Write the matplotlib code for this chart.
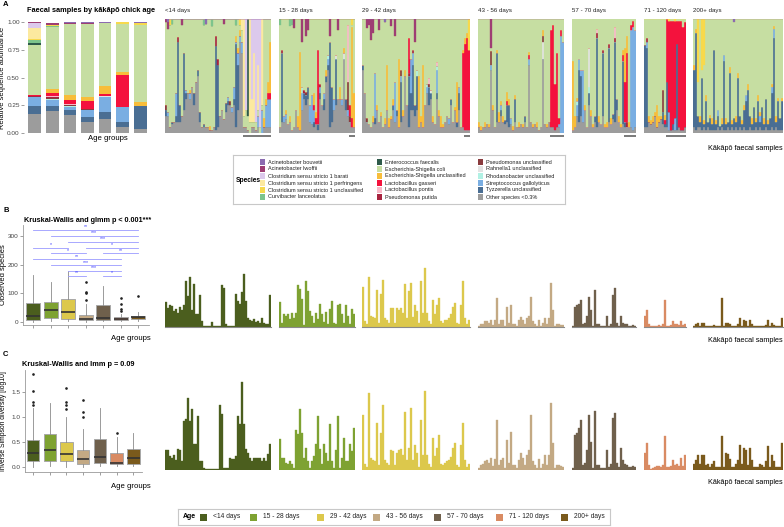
import matplotlib
matplotlib.use("Agg")
import matplotlib.pyplot as plt
from matplotlib.patches import Rectangle
import numpy as np

plt.rcParams["font.family"] = ["Liberation Sans", "DejaVu Sans"]

age_groups = ["<14 days", "15 - 28 days", "29 - 42 days", "43 - 56 days",
              "57 - 70 days", "71 - 120 days", "200+ days"]
age_colors = ["#4b5e1e", "#7ea232", "#dcc84c", "#c3a984", "#6f604c", "#d98b63", "#7a5a1c"]

# legend order (top of stack first)
species_keys = ["bouvetii", "lwoffii", "barati", "cperf", "cuncl", "curvi", "entero", "coli",
                "esu", "gass", "pontis", "pp", "pu", "rahn", "rhod", "strep", "tyzz", "other"]
species_names = ["Acinetobacter bouvetii", "Acinetobacter lwoffii",
                 "Clostridium sensu stricto 1 barati", "Clostridium sensu stricto 1 perfringens",
                 "Clostridium sensu stricto 1 unclassified", "Curvibacter lanceolatus",
                 "Enterococcus faecalis", "Escherichia-Shigella coli",
                 "Escherichia-Shigella unclassified", "Lactobacillus gasseri",
                 "Lactobacillus pontis", "Pseudomonas putida", "Pseudomonas unclassified",
                 "Rahnella1 unclassified", "Rhodanobacter unclassified",
                 "Streptococcus gallolyticus", "Tyzzerella unclassified", "Other species <0.3%"]
species_colors = ["#8b6bb0", "#9e3e73", "#dcc9ec", "#fce99f", "#f7d94c", "#7dc48c", "#2e5a4a",
                  "#c6dea2", "#f8bd3a", "#f4123d", "#f9b9c9", "#a8233f", "#8a3b3e", "#e3e3e3",
                  "#b1f1e4", "#7aaee2", "#4a6e93", "#9c9c9c"]

# mean relative abundance per age group (rows follow species_keys)
mean_abund = [
    [0.005, 0.005, 0.005, 0.005, 0.003, 0.0, 0.005],
    [0.01, 0.015, 0.01, 0.01, 0.005, 0.0, 0.0],
    [0.045, 0.0, 0.0, 0.0, 0.0, 0.0, 0.0],
    [0.10, 0.0, 0.0, 0.0, 0.0, 0.0, 0.0],
    [0.01, 0.015, 0.005, 0.0, 0.0, 0.02, 0.02],
    [0.02, 0.005, 0.0, 0.0, 0.0, 0.0, 0.0],
    [0.02, 0.0, 0.0, 0.0, 0.0, 0.0, 0.0],
    [0.45, 0.56, 0.635, 0.665, 0.57, 0.43, 0.70],
    [0.005, 0.035, 0.05, 0.035, 0.07, 0.03, 0.03],
    [0.005, 0.025, 0.035, 0.07, 0.015, 0.29, 0.0],
    [0.005, 0.01, 0.005, 0.0, 0.0, 0.0, 0.0],
    [0.005, 0.01, 0.005, 0.0, 0.005, 0.0, 0.0],
    [0.005, 0.005, 0.005, 0.005, 0.0, 0.0, 0.0],
    [0.0, 0.005, 0.0, 0.0, 0.005, 0.0, 0.0],
    [0.0, 0.01, 0.01, 0.0, 0.005, 0.0, 0.0],
    [0.08, 0.055, 0.025, 0.065, 0.13, 0.13, 0.005],
    [0.07, 0.045, 0.05, 0.05, 0.065, 0.045, 0.20],
    [0.17, 0.195, 0.16, 0.095, 0.125, 0.055, 0.04],
]

# per-sample abundance (%) of the main taxa, one list per age group
other_pct = [
    [15, 15, 5, 8, 10, 10, 10, 10, 15, 20, 30, 35, 30, 40, 25, 45, 50, 10, 5, 5,
     5, 5, 3, 3, 5, 3, 5, 15, 20, 12, 18, 25, 25, 18, 25, 5, 20, 80, 70, 5,
     5, 3, 0, 5, 5, 3, 5, 0, 0, 5, 5, 5, 5],
    [5, 10, 10, 12, 8, 10, 3, 5, 20, 5, 3, 20, 30, 25, 30, 10, 8, 5, 8, 3,
     30, 25, 20, 45, 55, 5, 10, 20, 25, 30, 30, 25, 65, 20, 15, 10, 5, 5],
    [55, 35, 10, 8, 5, 10, 8, 20, 10, 15, 5, 8, 20, 5, 12, 20, 10, 15, 5, 10,
     15, 50, 25, 5, 20, 20, 15, 20, 5, 10, 5, 25, 35, 25, 30, 10, 8, 30, 15, 5,
     5, 10, 15, 8, 25, 10, 20, 5, 20, 5, 5, 3, 3, 3],
    [5, 3, 5, 5, 8, 5, 55, 20, 5, 10, 10, 15, 10, 8, 10, 5, 8, 3, 10, 5,
     5, 8, 5, 10, 5, 60, 10, 5, 8, 5, 3, 5, 65, 8, 5, 10, 5, 5, 3, 5, 5, 0, 0],
    [3, 5, 15, 10, 15, 10, 20, 5, 25, 15, 5, 10, 5, 10, 8, 15, 5, 5, 10, 8,
     12, 10, 20, 10, 5, 8, 5, 5, 5, 5, 3, 5],
    [5, 5, 10, 8, 10, 15, 5, 10, 12, 8, 5, 5, 3, 3, 3, 3, 3, 5, 3, 3, 5],
    [5, 3, 5, 5, 3, 5, 3, 5, 3, 3, 3, 3, 5, 3, 5, 3, 3, 5, 3, 5,
     3, 5, 3, 5, 3, 5, 3, 3, 5, 3, 3, 5, 3, 5, 3, 3, 5, 3, 3, 5, 3, 5, 3, 3, 3],
]
tyzz_pct = [
    [5, 0, 0, 2, 0, 5, 70, 15, 0, 50, 5, 0, 0, 0, 10, 0, 5, 8, 0, 3,
     0, 0, 0, 0, 0, 73, 55, 0, 0, 0, 8, 3, 0, 0, 5, 73, 40, 0, 0, 0,
     0, 0, 0, 0, 0, 0, 0, 0, 0, 0, 0, 0, 0],
    [0, 60, 0, 0, 0, 0, 0, 0, 0, 0, 0, 0, 5, 8, 10, 0, 0, 5, 0, 5,
     5, 0, 10, 5, 5, 75, 30, 0, 40, 0, 0, 0, 0, 10, 0, 0, 0, 0],
    [5, 0, 0, 0, 0, 0, 5, 0, 0, 0, 0, 0, 0, 0, 0, 5, 0, 5, 0, 35,
     0, 0, 0, 45, 15, 40, 10, 30, 0, 0, 0, 0, 0, 15, 5, 0, 0, 5, 0, 0,
     0, 0, 0, 0, 5, 0, 0, 5, 15, 0, 0, 0, 0, 0],
    [0, 0, 0, 0, 0, 0, 0, 0, 0, 60, 0, 5, 0, 3, 15, 20, 0, 0, 20, 0,
     0, 0, 0, 5, 0, 0, 0, 0, 0, 0, 0, 0, 0, 0, 0, 0, 0, 0, 0, 0, 0, 0, 0],
    [0, 0, 0, 45, 35, 0, 0, 0, 10, 0, 0, 5, 78, 0, 0, 55, 0, 0, 65, 0,
     5, 70, 10, 0, 0, 55, 5, 0, 0, 0, 0, 0],
    [72, 70, 0, 0, 0, 0, 0, 0, 0, 10, 3, 40, 0, 0, 5, 0, 75, 0, 0, 0, 0],
    [50, 85, 10, 5, 45, 3, 25, 5, 10, 5, 70, 5, 10, 3, 3, 60, 5, 5, 50, 3,
     10, 5, 45, 10, 5, 15, 25, 35, 10, 5, 20, 5, 25, 5, 20, 5, 25, 5, 10, 30,
     80, 5, 25, 10, 25],
]
strep_pct = [
    [0, 3, 0, 0, 0, 20, 0, 0, 0, 0, 3, 0, 5, 0, 0, 0, 0, 0, 0, 0,
     0, 0, 0, 0, 0, 0, 0, 0, 0, 0, 0, 4, 0, 5, 10, 2, 10, 5, 10, 0,
     0, 0, 0, 0, 0, 0, 10, 0, 20, 0, 20, 25, 25],
    [0, 0, 5, 5, 0, 0, 0, 0, 0, 0, 0, 15, 0, 0, 0, 15, 25, 10, 0, 0,
     5, 0, 5, 0, 5, 0, 0, 10, 0, 0, 0, 5, 0, 0, 5, 0, 0, 0],
    [0, 0, 0, 0, 0, 0, 40, 0, 0, 0, 0, 0, 0, 0, 0, 0, 35, 0, 0, 5,
     0, 0, 0, 0, 30, 10, 0, 0, 0, 0, 0, 0, 5, 0, 0, 0, 0, 20, 0, 0,
     0, 0, 0, 5, 0, 0, 0, 0, 5, 0, 0, 0, 0, 0],
    [0, 0, 0, 0, 0, 0, 5, 0, 0, 0, 0, 5, 0, 0, 0, 0, 5, 0, 0, 0,
     0, 0, 0, 0, 0, 5, 0, 0, 0, 0, 0, 0, 0, 0, 0, 0, 0, 0, 0, 0, 3, 85, 80],
    [0, 0, 10, 10, 5, 45, 0, 0, 0, 0, 0, 0, 0, 0, 0, 0, 0, 0, 0, 0,
     0, 0, 0, 0, 0, 0, 0, 0, 0, 85, 90, 85],
    [0, 5, 0, 0, 0, 0, 0, 0, 0, 0, 0, 0, 15, 0, 0, 10, 0, 0, 0, 0, 0],
    [0, 0, 0, 0, 0, 0, 0, 0, 0, 0, 0, 0, 5, 0, 0, 5, 0, 0, 0, 0,
     0, 0, 0, 0, 0, 0, 5, 0, 0, 0, 0, 0, 0, 5, 0, 0, 0, 0, 0, 5, 8, 0, 0, 0, 0],
]
esu_pct = [
    [0, 0, 0, 0, 0, 0, 0, 0, 0, 0, 0, 0, 3, 0, 0, 0, 0, 0, 0, 0,
     0, 0, 3, 0, 0, 0, 0, 0, 0, 0, 0, 0, 0, 0, 0, 5, 5, 5, 0, 0,
     0, 0, 0, 0, 0, 0, 0, 0, 0, 8, 5, 10, 45],
    [0, 0, 0, 3, 0, 5, 0, 0, 0, 10, 68, 0, 0, 0, 0, 0, 0, 10, 5, 0,
     0, 0, 0, 5, 0, 0, 0, 0, 0, 0, 10, 0, 5, 0, 0, 0, 80, 30],
    [0, 0, 0, 0, 0, 5, 0, 5, 0, 3, 0, 5, 40, 8, 3, 5, 0, 0, 60, 0,
     5, 5, 0, 0, 0, 0, 0, 0, 45, 5, 55, 0, 0, 0, 0, 5, 0, 0, 5, 10,
     3, 0, 0, 0, 0, 0, 3, 35, 0, 0, 3, 5, 5, 0],
    [5, 3, 0, 5, 0, 3, 0, 5, 0, 3, 8, 3, 5, 0, 8, 5, 0, 3, 3, 0,
     5, 0, 3, 0, 0, 3, 0, 3, 0, 5, 0, 0, 5, 0, 3, 0, 0, 0, 0, 0, 0, 0, 0],
    [60, 10, 3, 0, 0, 0, 5, 0, 0, 5, 3, 0, 0, 5, 0, 0, 3, 5, 0, 5,
     0, 0, 0, 5, 3, 5, 30, 15, 5, 0, 0, 0],
    [0, 0, 5, 3, 5, 3, 20, 5, 3, 0, 5, 0, 0, 0, 0, 0, 0, 0, 0, 0, 0],
    [5, 3, 0, 5, 0, 3, 5, 0, 3, 5, 0, 3, 0, 0, 5, 0, 5, 0, 5, 3,
     0, 5, 5, 0, 3, 5, 0, 5, 0, 5, 0, 3, 5, 3, 0, 5, 0, 3, 0, 3, 3, 5, 3, 0, 3],
]
gass_pct = [
    [0] * 51 + [5, 5],
    [0, 0, 0, 0, 0, 0, 0, 0, 0, 0, 0, 0, 0, 0, 0, 0, 0, 5, 5, 65,
     0, 0, 0, 0, 0, 0, 0, 0, 0, 0, 0, 0, 0, 0, 0, 10, 8, 0],
    [0, 0, 0, 0, 0, 0, 0, 0, 0, 0, 0, 0, 0, 0, 0, 0, 0, 0, 0, 0,
     0, 0, 0, 30, 0, 0, 0, 0, 0, 0, 0, 0, 0, 0, 0, 0, 0, 0, 0, 0,
     0, 0, 0, 0, 0, 0, 0, 0, 0, 0, 65, 75, 80, 70],
    [0, 0, 0, 0, 0, 0, 0, 0, 0, 0, 0, 0, 0, 0, 3, 0, 0, 0, 0, 0,
     0, 0, 0, 0, 0, 3, 0, 0, 0, 0, 0, 0, 0, 0, 0, 0, 85, 90, 40, 65, 5, 5, 0],
    [0, 0, 0, 0, 0, 0, 0, 0, 0, 0, 0, 0, 0, 0, 0, 0, 0, 0, 0, 0,
     0, 0, 0, 0, 0, 5, 35, 60, 0, 5, 5, 0],
    [0, 0, 0, 0, 0, 0, 0, 0, 0, 0, 3, 55, 80, 95, 90, 85, 20, 93, 95, 90, 92],
    [0] * 45,
]
# rarer taxa: {(age group, sample): %}
rhod_pct = {(1, 11): 5, (1, 24): 3, (2, 27): 5, (2, 32): 3, (2, 37): 4, (4, 2): 3, (4, 8): 5}
rahn_pct = {(1, 28): 3, (1, 32): 5, (2, 34): 3, (3, 32): 15, (4, 8): 35}
pu_pct = {(0, 0): 5, (0, 32): 3, (1, 13): 3, (1, 34): 25, (1, 35): 5, (2, 2): 3, (2, 19): 5,
          (2, 33): 3, (3, 6): 12, (3, 32): 5, (5, 9): 20}
pp_pct = {(0, 6): 4, (0, 25): 9, (0, 26): 5, (1, 1): 3, (1, 12): 3, (1, 20): 3, (2, 23): 3,
          (2, 25): 3, (4, 12): 5, (4, 15): 3, (4, 18): 3, (4, 21): 3, (4, 27): 5, (5, 1): 3}
pontis_pct = {(1, 34): 50, (2, 33): 5, (2, 37): 3, (4, 12): 3, (4, 21): 10}
entero_pct = {(0, 41): 85}
curvi_pct = {(0, 3): 4, (0, 19): 5, (0, 23): 6, (0, 35): 5, (1, 0): 5, (1, 5): 6, (1, 6): 5}
cuncl_pct = {(0, 2): 5, (0, 37): 5, (1, 36): 5, (2, 53): 27, (5, 12): 5, (5, 15): 5,
             (6, 2): 55, (6, 4): 45, (6, 5): 40}
cperf_pct = {(0, 38): 10, (0, 39): 85, (0, 42): 90, (0, 43): 20, (0, 44): 60, (0, 46): 40,
             (0, 48): 75}
barati_pct = {(0, 40): 80, (0, 43): 70, (0, 44): 30, (0, 45): 90, (0, 46): 40, (0, 47): 95}
lwoffii_pct = {(0, 0): 3, (0, 1): 6, (0, 8): 5, (0, 29): 4, (1, 7): 8, (1, 11): 20, (1, 13): 15,
               (1, 14): 10, (1, 25): 15, (1, 29): 10, (2, 2): 8, (2, 3): 5, (2, 4): 18,
               (2, 5): 12, (2, 8): 10, (2, 14): 6, (2, 16): 15, (2, 26): 20, (3, 6): 25}
bouvetii_pct = {(0, 1): 3, (0, 20): 4, (2, 11): 3, (6, 20): 3}

# samples underlined below panel A (age group, first, last)
underlines = [(0, 39, 52), (1, 35, 37), (2, 51, 53), (3, 36, 42), (4, 26, 31), (5, 11, 20)]

# observed species per sample
obs_species = [
    [87, 67, 76, 74, 55, 64, 48, 70, 60, 75, 160, 108, 175, 58, 150, 45, 45, 110, 20, 5,
     3, 3, 2, 18, 5, 3, 3, 2, 148, 137, 10, 2, 3, 5, 4, 114, 90, 80, 123, 186,
     90, 30, 25, 20, 28, 18, 20, 15, 31, 15, 10, 12, 113],
    [87, 15, 44, 38, 44, 27, 50, 30, 50, 145, 131, 97, 8, 160, 126, 56, 38, 15, 50, 27,
     79, 47, 17, 53, 12, 64, 91, 15, 10, 78, 81, 44, 15, 78, 38, 12, 62, 44],
    [140, 20, 10, 175, 40, 35, 30, 130, 15, 115, 165, 30, 25, 15, 65, 65, 15, 65, 60, 65,
     50, 150, 30, 125, 155, 35, 75, 55, 15, 160, 50, 205, 50, 20, 10, 95, 45, 75, 100, 20,
     15, 25, 25, 30, 45, 70, 85, 15, 10, 75, 160, 30, 10, 25],
    [5, 10, 12, 20, 20, 15, 25, 8, 25, 100, 10, 25, 25, 5, 70, 15, 75, 10, 10, 5,
     25, 35, 25, 10, 30, 40, 105, 20, 10, 5, 25, 5, 15, 30, 10, 30, 155, 60, 5, 10, 10, 8, 8],
    [5, 70, 75, 80, 95, 10, 15, 40, 105, 60, 5, 130, 10, 10, 5, 5, 5, 40, 5, 10,
     110, 135, 15, 5, 40, 15, 10, 10, 5, 5, 8, 5],
    [40, 60, 10, 2, 3, 5, 5, 8, 5, 10, 95, 5, 5, 8, 20, 10, 10, 8, 20, 8, 12],
    [5, 10, 15, 5, 15, 15, 5, 5, 3, 5, 8, 3, 3, 3, 100, 3, 15, 15, 10, 3,
     3, 5, 10, 30, 5, 25, 20, 5, 25, 10, 3, 3, 3, 5, 5, 3, 8, 25, 3, 15, 8, 3, 3, 3, 30],
]
# inverse Simpson diversity [log10] per sample
inv_simpson = [
    [0.40, 0.40, 0.29, 0.25, 0.30, 0.20, 0.42, 0.40, 0.19, 0.99, 1.02, 1.44, 0.98, 1.23, 0.53,
     0.52, 1.09, 0.19, 0.19, 0.05, 0.03, 0.02, 0.02, 0.02, 0.02, 0.02, 0.02, 1.31, 1.12, 0.05,
     0.05, 0.05, 0.24, 0.22, 0.22, 0.29, 1.09, 0.92, 1.77, 0.92, 0.42, 0.35, 0.25, 0.19, 0.25,
     0.24, 0.24, 0.25, 0.19, 0.25, 0.19, 0.32, 0.53],
    [0.62, 0.25, 0.25, 0.15, 0.12, 0.19, 0.12, 0.05, 0.80, 0.72, 1.22, 0.75, 0.25, 0.45, 0.19,
     0.05, 0.19, 0.29, 0.52, 1.09, 0.42, 0.12, 0.52, 0.35, 0.19, 0.93, 0.19, 0.05, 0.40, 1.09,
     0.05, 0.25, 0.65, 0.19, 0.19, 0.52, 0.39, 0.85],
    [1.10, 0.12, 0.06, 1.55, 0.25, 0.20, 0.18, 0.95, 0.10, 0.75, 1.30, 0.20, 0.15, 0.10, 0.40,
     0.38, 0.10, 0.35, 0.40, 0.42, 0.30, 1.16, 0.20, 0.45, 1.25, 0.20, 0.50, 0.35, 0.06, 1.00,
     0.30, 1.58, 0.30, 0.12, 0.06, 0.65, 0.28, 0.45, 0.70, 0.12, 0.10, 0.15, 0.18, 0.20, 0.26,
     0.45, 0.55, 0.10, 0.06, 0.50, 0.95, 0.20, 0.06, 0.12],
    [0.05, 0.10, 0.12, 0.18, 0.20, 0.15, 0.25, 0.08, 0.22, 1.00, 0.10, 0.20, 0.25, 0.05, 0.60,
     0.15, 0.77, 0.10, 0.10, 0.05, 0.20, 0.35, 0.25, 0.10, 0.30, 0.40, 1.10, 0.18, 0.10, 0.05,
     0.22, 0.05, 0.12, 0.30, 0.10, 0.30, 1.34, 0.55, 0.05, 0.10, 0.10, 0.08, 0.06],
    [0.05, 0.70, 0.75, 0.85, 1.00, 0.10, 0.15, 0.40, 1.10, 0.56, 0.05, 1.18, 0.10, 0.10, 0.05,
     0.05, 0.05, 0.40, 0.06, 0.12, 1.05, 1.15, 0.15, 0.06, 0.45, 0.20, 0.12, 0.10, 0.06, 0.06,
     0.08, 0.06],
    [0.35, 0.55, 0.10, 0.03, 0.05, 0.06, 0.08, 0.09, 0.06, 0.10, 0.69, 0.06, 0.07, 0.08, 0.20,
     0.10, 0.12, 0.09, 0.25, 0.09, 0.30],
    [0.12, 0.20, 0.30, 0.12, 0.30, 0.30, 0.10, 0.12, 0.06, 0.12, 0.18, 0.06, 0.07, 0.06, 0.69,
     0.06, 0.35, 0.33, 0.22, 0.07, 0.06, 0.12, 0.20, 0.50, 0.12, 0.45, 0.40, 0.10, 0.45, 0.20,
     0.06, 0.06, 0.07, 0.12, 0.10, 0.06, 0.18, 0.48, 0.06, 0.30, 0.18, 0.06, 0.06, 0.07, 0.55],
]

# box plot summaries
obs_q1 = [8, 13, 12, 8, 8, 8, 10]
obs_med = [21, 41, 35, 12, 15, 10, 16]
obs_q3 = [66, 70, 79, 26, 58, 18, 21]
obs_lo = [0, 2, 2, 1, 2, 2, 2]
obs_hi = [163, 140, 177, 62, 125, 29, 35]
obs_fliers = [[], [], [], [75, 100, 105, 140], [], [38, 47, 64, 82], [90]]

simp_q1 = [0.12, 0.13, 0.12, 0.07, 0.09, 0.07, 0.07]
simp_med = [0.28, 0.34, 0.26, 0.16, 0.20, 0.09, 0.18]
simp_q3 = [0.55, 0.67, 0.50, 0.34, 0.56, 0.29, 0.36]
simp_lo = [0.01, 0.02, 0.01, 0.01, 0.02, 0.02, 0.02]
simp_hi = [1.18, 1.29, 1.00, 0.77, 1.18, 0.60, 0.69]
simp_fliers = [[1.25, 1.31, 1.53, 1.86], [], [1.16, 1.24, 1.30, 1.58], [1.00, 1.10, 1.34],
               [], [0.69], []]

# pairwise tests drawn over panel B
sig_pairs = [(0, 6), (1, 6), (2, 6), (0, 2), (3, 6), (1, 3), (4, 6), (0, 5), (1, 5), (2, 5),
             (2, 3), (4, 5)]
sig_level = [321, 301, 280, 259, 259, 239, 239, 218, 198, 178, 160, 160]
sig_stars = ["**", "***", "***", "*", "*", "*", "**", "**", "***", "***", "**", "*"]

W, H = 784, 527
fig = plt.figure(figsize=(W / 100, H / 100), dpi=100)


def px(x0, y0, x1, y1):
    return [x0 / W, 1 - y1 / H, (x1 - x0) / W, (y1 - y0) / H]


sparse = {"rhod": rhod_pct, "rahn": rahn_pct, "pu": pu_pct, "pp": pp_pct, "pontis": pontis_pct,
          "entero": entero_pct, "curvi": curvi_pct, "cuncl": cuncl_pct, "cperf": cperf_pct,
          "barati": barati_pct, "lwoffii": lwoffii_pct, "bouvetii": bouvetii_pct}
color_of = dict(zip(species_keys, species_colors))


def sample_table(g):
    n = len(other_pct[g])
    tab = {k: np.zeros(n) for k in species_keys}
    tab["other"] = np.array(other_pct[g], float)
    tab["tyzz"] = np.array(tyzz_pct[g], float)
    tab["strep"] = np.array(strep_pct[g], float)
    tab["esu"] = np.array(esu_pct[g], float)
    tab["gass"] = np.array(gass_pct[g], float)
    for k, d in sparse.items():
        for (gg, i), v in d.items():
            if gg == g:
                tab[k][i] = v
    rest = sum(tab[k] for k in species_keys if k != "coli")
    tab["coli"] = np.clip(100 - rest, 0, None)
    return tab


# x layout of the per-sample facets
counts = [len(o) for o in obs_species]
unit, gap, start = 2.0, 7.7, 165
lefts = []
x = start
for n in counts:
    lefts.append(x)
    x += n * unit + gap

tick_kw = dict(labelsize=4.6, length=2, width=0.5, color="#777777", labelcolor="#444444", pad=1)

# ---------------- panel A ----------------
ax = fig.add_axes(px(24, 22, 151, 133))
bottom = np.zeros(7)
for k in range(len(species_keys) - 1, -1, -1):
    vals = np.array(mean_abund[k])
    ax.bar(range(7), vals, bottom=bottom, width=0.72, color=species_colors[k], linewidth=0)
    bottom += vals
ax.set_xlim(-0.6, 6.6)
ax.set_ylim(0, 1)
ax.set_yticks([0, 0.25, 0.5, 0.75, 1.0])
ax.set_yticklabels(["0.00", "0.25", "0.50", "0.75", "1.00"])
ax.set_xticks([])
ax.tick_params(axis="y", **tick_kw)
for s in ax.spines.values():
    s.set_visible(False)
ax.set_ylabel("Relative sequence abundance", fontsize=5.4)
ax.yaxis.set_label_coords((6 - 24) / 127, 0.5)

for g, n in enumerate(counts):
    ax = fig.add_axes(px(lefts[g], 19, lefts[g] + n * unit, 133))
    tab = sample_table(g)
    xs = np.arange(n)
    bottom = np.zeros(n)
    for k in reversed(species_keys):
        v = tab[k] / 100
        if v.any():
            ax.bar(xs, v, bottom=bottom, width=1.0, color=color_of[k],
                   edgecolor=color_of[k], linewidth=0.25)
        bottom += v
    ax.set_xlim(-0.5, n - 0.5)
    ax.set_ylim(0, 1)
    ax.axis("off")
    ax.text(0, 1 + 6 / 114, age_groups[g], transform=ax.transAxes, fontsize=4.4,
            ha="left", va="bottom", color="#222222")
    for gg, i0, i1 in underlines:
        if gg == g:
            ax.plot([i0 - 0.5, i1 + 0.5], [-0.025, -0.025], color="#555555", lw=1.1,
                    clip_on=False, solid_capstyle="butt")

# species legend
lax = fig.add_axes(px(233, 155, 565, 204))
lax.set_xlim(0, 332)
lax.set_ylim(49, 0)
lax.set_xticks([])
lax.set_yticks([])
for s in lax.spines.values():
    s.set_color("#c8c8c8")
    s.set_linewidth(0.8)
lax.text(3, 25, "Species", fontsize=4.8, fontweight="bold", va="center", ha="left")
col_x = [27, 144, 245]
for j, (name, c) in enumerate(zip(species_names, species_colors)):
    cx = col_x[j // 6]
    cy = 7 + 7 * (j % 6)
    lax.add_patch(Rectangle((cx, cy - 3), 5, 6, color=c, lw=0))
    lax.text(cx + 8, cy, name, fontsize=4.0, va="center", ha="left", color="#222222")

# ---------------- panel B ----------------
def draw_box(ax, q1, med, q3, lo, hi, fliers, width):
    stats = []
    for i in range(7):
        stats.append(dict(med=med[i], q1=q1[i], q3=q3[i], whislo=lo[i], whishi=hi[i],
                          fliers=fliers[i]))
    bp = ax.bxp(stats, positions=range(7), widths=width, patch_artist=True,
                showcaps=False,
                boxprops=dict(edgecolor="#a8a8a8", linewidth=0.7),
                medianprops=dict(color="#333333", linewidth=1.2),
                whiskerprops=dict(color="#8a8a8a", linewidth=0.6),
                flierprops=dict(marker="o", markersize=0.9, markerfacecolor="#222222",
                                markeredgecolor="#222222"))
    for patch, c in zip(bp["boxes"], age_colors):
        patch.set_facecolor(c)
    for s in ["top", "right"]:
        ax.spines[s].set_visible(False)
    for s in ["left", "bottom"]:
        ax.spines[s].set_color("#9a9a9a")
        ax.spines[s].set_linewidth(0.6)
    ax.set_xticks(range(7))
    ax.set_xticklabels([])
    ax.tick_params(axis="both", **tick_kw)


ax = fig.add_axes(px(22.5, 225, 148.5, 325))
draw_box(ax, obs_q1, obs_med, obs_q3, obs_lo, obs_hi, obs_fliers, 0.8)
ax.set_xlim(-0.6, 6.6)
ax.set_ylim(-10.5, 338)
ax.set_yticks([0, 100, 200, 300])
ax.set_ylabel("Observed species", fontsize=5.4)
ax.yaxis.set_label_coords((7 - 22.5) / 126, 0.5)
for (a, b), yv, st in zip(sig_pairs, sig_level, sig_stars):
    ax.plot([a, b], [yv, yv], color="#9a9aff", lw=0.6, clip_on=False)
    ax.text((a + b) / 2, yv + 2, st, color="#3c3cff", fontsize=3.8, ha="center", va="bottom")

for g, n in enumerate(counts):
    ax = fig.add_axes(px(lefts[g], 225, lefts[g] + n * unit, 327))
    ax.bar(np.arange(n), obs_species[g], width=1.0, color=age_colors[g],
           edgecolor=age_colors[g], linewidth=0.25)
    ax.set_xlim(-0.5, n - 0.5)
    ax.set_ylim(0, 102 / 0.2867)
    ax.set_xticks([])
    ax.set_yticks([])
    for s in ["top", "right", "left"]:
        ax.spines[s].set_visible(False)
    ax.spines["bottom"].set_color("#8a8a8a")
    ax.spines["bottom"].set_linewidth(0.8)

# ---------------- panel C ----------------
ax = fig.add_axes(px(24.7, 370, 141.7, 471.7))
draw_box(ax, simp_q1, simp_med, simp_q3, simp_lo, simp_hi, simp_fliers, 0.74)
ax.set_xlim(-0.5, 6.5)
ax.set_ylim(-0.094, 1.94)
ax.set_yticks([0, 0.5, 1.0, 1.5])
ax.set_yticklabels(["0.0", "0.5", "1.0", "1.5"])
ax.set_ylabel("Inverse Simpson diversity [log10]", fontsize=4.9)
ax.yaxis.set_label_coords((7 - 24.7) / 117, 0.5)

for g, n in enumerate(counts):
    ax = fig.add_axes(px(lefts[g], 370, lefts[g] + n * unit, 470))
    ax.bar(np.arange(n), inv_simpson[g], width=1.0, color=age_colors[g],
           edgecolor=age_colors[g], linewidth=0.25)
    ax.set_xlim(-0.5, n - 0.5)
    ax.set_ylim(0, 2.0)
    ax.axis("off")

# age legend
aax = fig.add_axes(px(178, 509, 610, 525))
aax.set_xlim(0, 432)
aax.set_ylim(16, 0)
aax.set_xticks([])
aax.set_yticks([])
for s in aax.spines.values():
    s.set_color("#c8c8c8")
    s.set_linewidth(0.8)
aax.text(5, 8, "Age", fontsize=5, fontweight="bold", va="center", ha="left")
item_x = [22, 72, 139, 195, 256, 318, 383]
for lx, lab, c in zip(item_x, age_groups, age_colors):
    aax.add_patch(Rectangle((lx, 4.5), 7, 7, color=c, lw=0))
    aax.text(lx + 13, 8, lab, fontsize=4.8, va="center", ha="left", color="#222222")

# ---------------- figure texts ----------------
def ftext(x, y, s, **kw):
    fig.text(x / W, 1 - y / H, s, **kw)


ftext(3, 5, "A", fontsize=5.5, fontweight="bold", va="center")
ftext(3, 210, "B", fontsize=5.5, fontweight="bold", va="center")
ftext(3, 355, "C", fontsize=5.5, fontweight="bold", va="center")
ftext(27, 10, "Faecal samples by kākāpō chick age", fontsize=5.3, fontweight="bold",
      va="center")
ftext(24, 220, "Kruskal-Wallis and glmm p < 0.001***", fontsize=5.2, fontweight="bold",
      va="center")
ftext(22, 364, "Kruskal-Wallis and lmm p = 0.09", fontsize=5.3, fontweight="bold", va="center")
ftext(108, 138, "Age groups", fontsize=5.6, ha="center", va="center")
ftext(131, 339, "Age groups", fontsize=5.6, ha="center", va="center")
ftext(131, 486, "Age groups", fontsize=5.6, ha="center", va="center")
for yy in [149, 340, 482]:
    ftext(783, yy, "Kākāpō faecal samples", fontsize=5.2, ha="right", va="center")

fig.savefig("out.png", dpi=100)
